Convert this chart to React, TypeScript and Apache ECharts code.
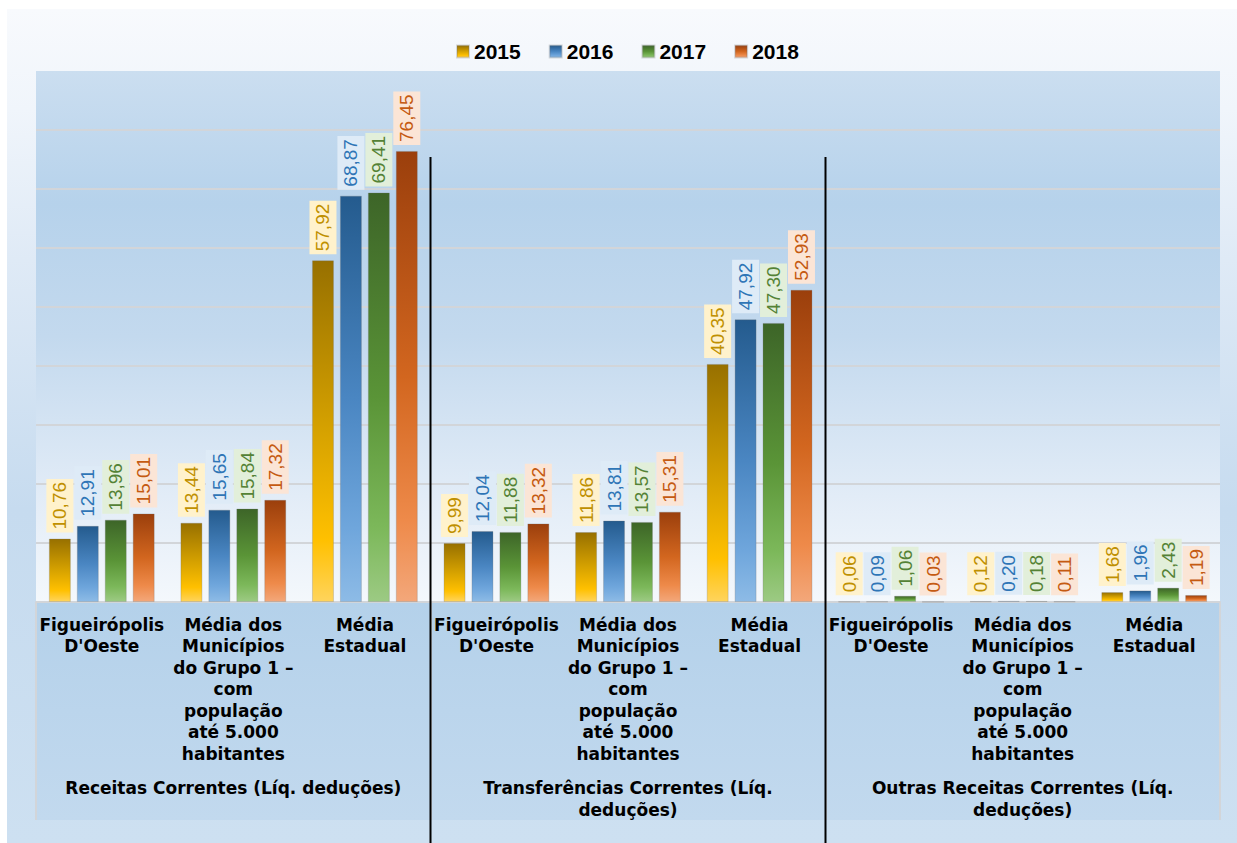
import React, { useEffect, useRef } from "react";
import * as echarts from "echarts";

const years = ["2015", "2016", "2017", "2018"];
const subCategories = [
  "Figueirópolis\nD'Oeste",
  "Média dos\nMunicípios\ndo Grupo 1 –\ncom\npopulação\naté 5.000\nhabitantes",
  "Média\nEstadual",
];
const groupTitles = [
  "Receitas Correntes (Líq. deduções)",
  "Transferências Correntes (Líq.\ndeduções)",
  "Outras Receitas Correntes (Líq.\ndeduções)",
];
const categories = groupTitles.flatMap(() => subCategories);

const values2015 = [10.76, 13.44, 57.92, 9.99, 11.86, 40.35, 0.06, 0.12, 1.68];
const values2016 = [12.91, 15.65, 68.87, 12.04, 13.81, 47.92, 0.09, 0.2, 1.96];
const values2017 = [13.96, 15.84, 69.41, 11.88, 13.57, 47.3, 1.06, 0.18, 2.43];
const values2018 = [15.01, 17.32, 76.45, 13.32, 15.31, 52.93, 0.03, 0.11, 1.19];
const seriesValues = [values2015, values2016, values2017, values2018];

const yTicks = { min: 0, max: 90, interval: 10 };

const gradStops = [
  ["#977000", "#d6a200", "#ffc000", "#ffd45c"],
  ["#245b8e", "#4a86c2", "#6fa6dc", "#8dbbe6"],
  ["#3d6528", "#5a9437", "#7cb85a", "#9cca83"],
  ["#9b3f0c", "#d2661f", "#ee8a4a", "#f3a77a"],
];
const labelColors = ["#bf9000", "#2e75b6", "#548235", "#c55a11"];
const labelBgs = ["#fff2cc", "#deebf7", "#e2efda", "#fbe5d6"];

export default function App() {
  const ref = useRef<HTMLDivElement>(null);
  useEffect(() => {
    if (!ref.current) return;
    const chart = echarts.init(ref.current, null, { renderer: "svg" });
    const splitColors = ["rgba(0,0,0,0)"];
    for (let i = 1; i < 9; i++) splitColors.push("#d2d5d9");
    splitColors.push("rgba(0,0,0,0)");

    const series = years.map((y, i) => ({
      name: y,
      type: "bar",
      xAxisIndex: 0,
      data: seriesValues[i],
      barWidth: 22,
      barGap: "27%",
      itemStyle: {
        color: new echarts.graphic.LinearGradient(0, 0, 0, 1, [
          { offset: 0, color: gradStops[i][0] },
          { offset: 0.5, color: gradStops[i][1] },
          { offset: 0.82, color: gradStops[i][2] },
          { offset: 1, color: gradStops[i][3] },
        ]),
        borderColor: "rgba(110,110,110,0.25)",
        borderWidth: 1,
      },
      label: {
        show: true,
        position: "top",
        distance: 6,
        rotate: 90,
        align: "left",
        verticalAlign: "middle",
        fontFamily: "Liberation Sans",
        fontSize: 19,
        lineHeight: 21,
        color: labelColors[i],
        backgroundColor: labelBgs[i],
        padding: [3, 3],
        formatter: (p: any) => Number(p.value).toFixed(2).replace(".", ","),
      },
    }));

    chart.setOption({
      animation: false,
      backgroundColor: "transparent",
      textStyle: { fontFamily: "DejaVu Sans" },
      graphic: [
        {
          type: "rect",
          z: -20,
          shape: { x: 7, y: 9, width: 1230, height: 834 },
          style: {
            fill: new echarts.graphic.LinearGradient(0, 0, 0, 1, [
              { offset: 0, color: "#f8fafd" },
              { offset: 0.12, color: "#f0f5fb" },
              { offset: 0.3, color: "#dfeaf6" },
              { offset: 0.6, color: "#c6dbef" },
              { offset: 1, color: "#cde0f1" },
            ]),
          },
        },
        {
          type: "rect",
          z: -19,
          shape: { x: 36, y: 602, width: 1184, height: 218 },
          style: {
            fill: new echarts.graphic.LinearGradient(0, 0, 0, 1, [
              { offset: 0, color: "#b4d1ea" },
              { offset: 1, color: "#c2d9ee" },
            ]),
          },
        },
        {
          type: "rect",
          z: -19,
          shape: { x: 36, y: 71, width: 1184, height: 531 },
          style: {
            fill: new echarts.graphic.LinearGradient(0, 0, 0, 1, [
              { offset: 0, color: "#cbdef0" },
              { offset: 0.25, color: "#b6d2eb" },
              { offset: 0.5, color: "#c3d9ee" },
              { offset: 0.8, color: "#e2ecf7" },
              { offset: 1, color: "#f4f8fc" },
            ]),
          },
        },
        {
          type: "line",
          z: 100,
          shape: { x1: 430.5, y1: 157, x2: 430.5, y2: 843 },
          style: { stroke: "#000", lineWidth: 2 },
        },
        {
          type: "line",
          z: 100,
          shape: { x1: 825.5, y1: 157, x2: 825.5, y2: 843 },
          style: { stroke: "#000", lineWidth: 2 },
        },
      ],
      legend: {
        data: years,
        left: 451,
        top: 36,
        itemWidth: 12,
        itemHeight: 12,
        itemGap: 28,
        icon: "rect",
        textStyle: {
          fontFamily: "Liberation Sans",
          fontWeight: "bold",
          fontSize: 21,
          color: "#000",
        },
      },
      grid: {
        left: 36,
        right: 17,
        top: 71,
        bottom: 241,
        containLabel: false,
        outerBoundsMode: "none",
      },
      xAxis: [
        {
          type: "category",
          data: categories,
          position: "bottom",
          axisLine: { show: true, lineStyle: { color: "#d2d5d9", width: 2 } },
          axisTick: { show: false },
          axisLabel: {
            interval: 0,
            margin: 12,
            fontFamily: "DejaVu Sans",
            fontWeight: "bold",
            fontSize: 17,
            lineHeight: 21.5,
            color: "#000",
            verticalAlign: "top",
          },
          splitLine: { show: false },
        },
        {
          type: "category",
          data: groupTitles,
          position: "bottom",
          axisLine: { show: false },
          axisTick: {
            show: true,
            length: 218,
            lineStyle: { color: "#d2d5d9", width: 2 },
          },
          axisLabel: {
            interval: 0,
            margin: 175,
            fontFamily: "DejaVu Sans",
            fontWeight: "bold",
            fontSize: 17,
            lineHeight: 22,
            color: "#000",
            verticalAlign: "top",
          },
          splitLine: { show: false },
        },
      ],
      yAxis: {
        type: "value",
        min: yTicks.min,
        max: yTicks.max,
        interval: yTicks.interval,
        axisLabel: { show: false },
        axisLine: { show: false },
        axisTick: { show: false },
        splitLine: { show: true, lineStyle: { color: splitColors, width: 2 } },
      },
      series,
    });
    return () => chart.dispose();
  }, []);
  return (
    <div
      ref={ref}
      style={{ position: "absolute", left: 0, top: 0, width: 1237, height: 843 }}
    />
  );
}
